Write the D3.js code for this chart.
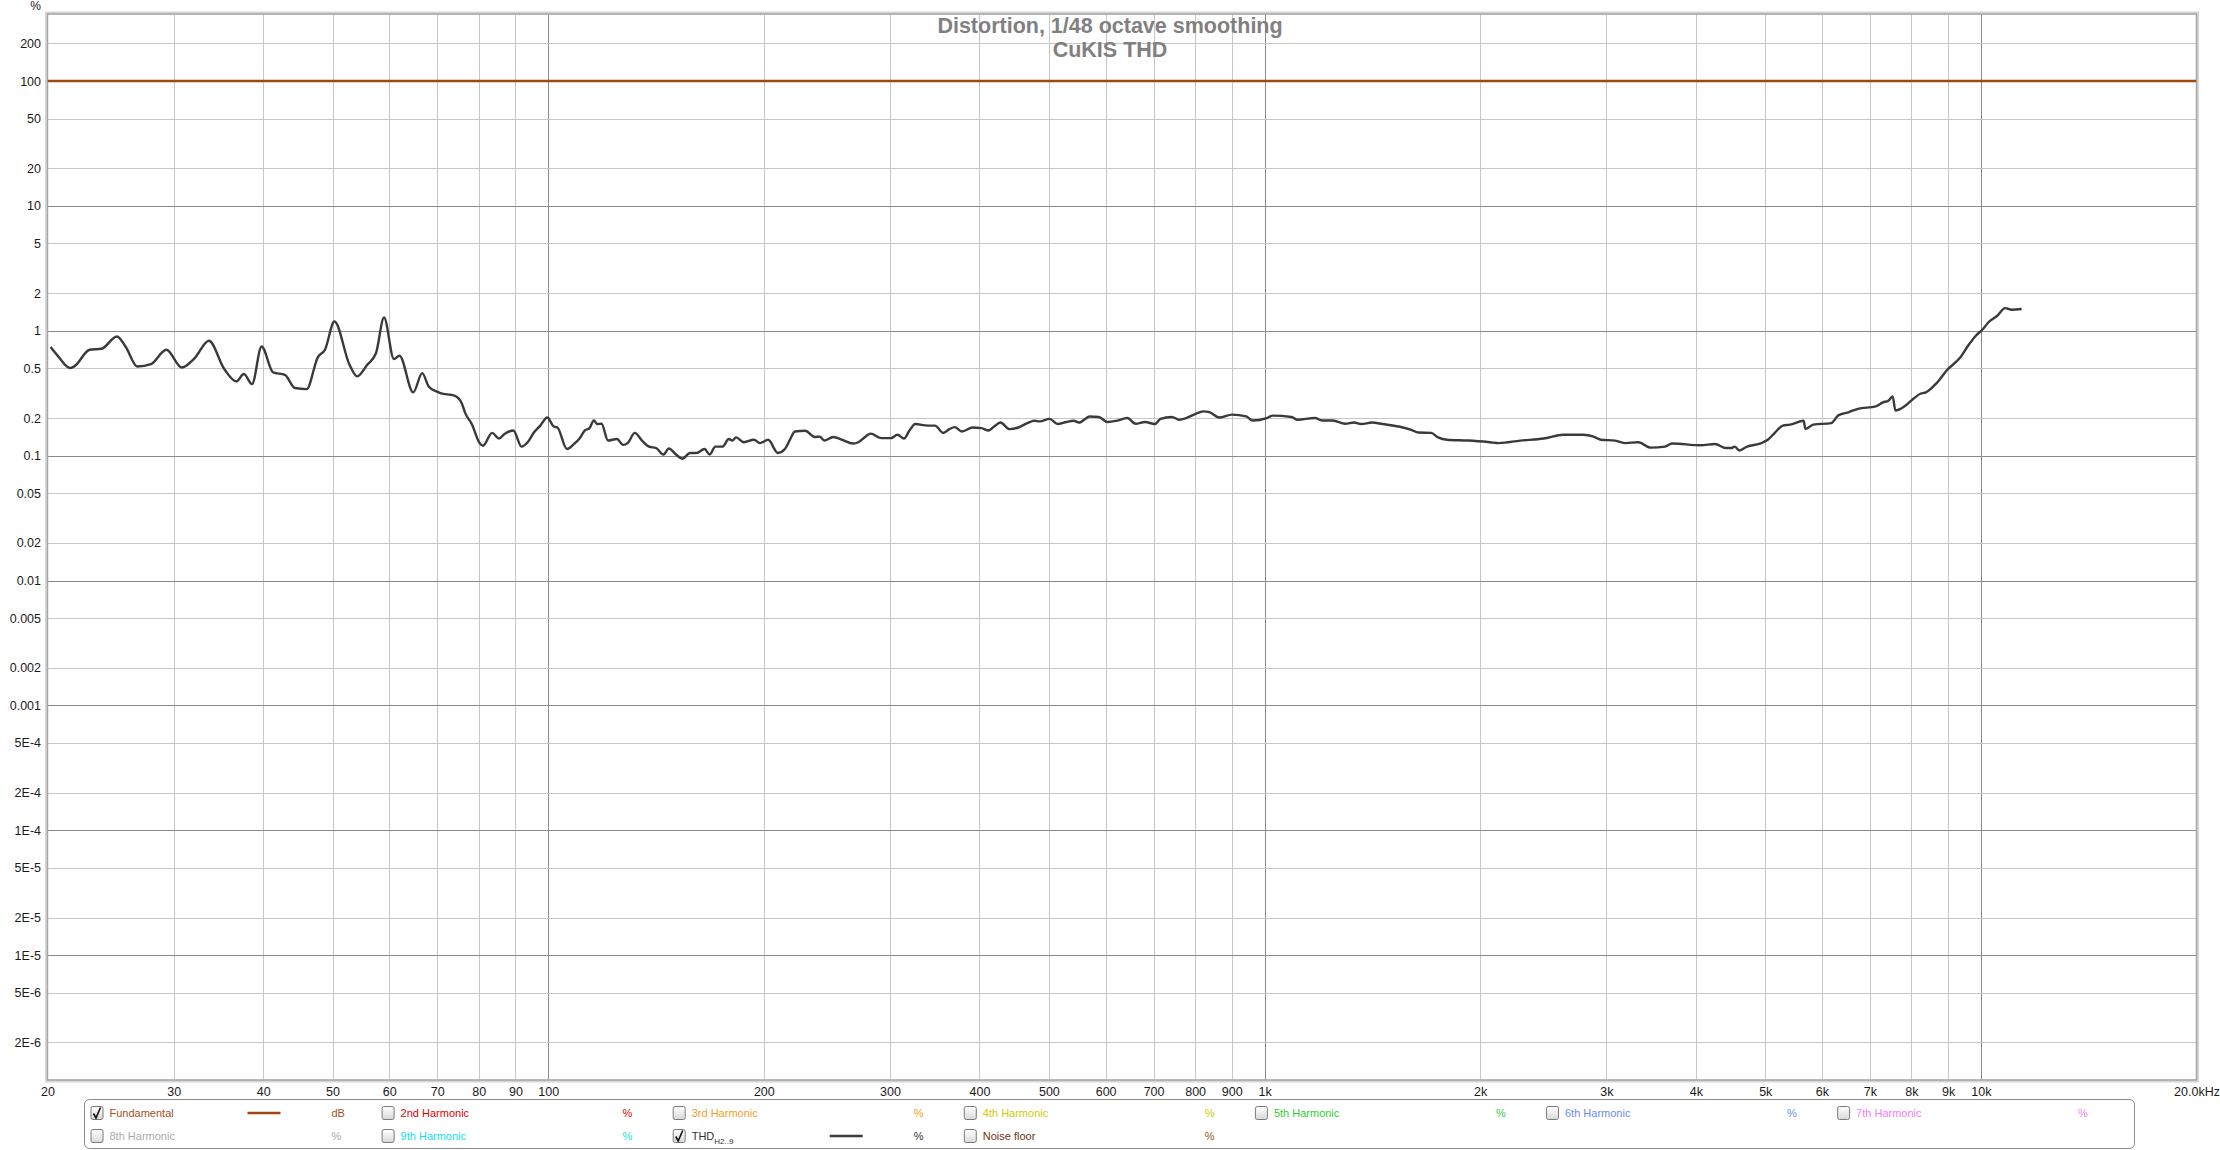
<!DOCTYPE html>
<html><head><meta charset="utf-8">
<script src="https://cdn.jsdelivr.net/npm/d3@7"></script>
<style>
body{margin:0;background:#fff}
svg{display:block}
text{font-family:"Liberation Sans",Arial,sans-serif}
</style>
</head><body>
<svg id="chart" width="2220" height="1150"></svg>
<script>
// ---------------- DATA ----------------
const thdFreq = [
20.2,20.7,21.5,21.8,22.9,23.8,25.0,25.7,26.7,27.9,
29.3,30.8,32.1,33.6,35.3,36.7,37.6,38.6,39.8,41.3,
42.9,44.3,46.0,47.7,48.8,50.3,52.8,54.1,55.9,57.5,
59.0,60.9,62.0,64.8,66.7,68.1,69.8,70.7,74.0,75.7,
76.6,78.3,80.2,81.1,83.5,85.4,86.9,89.4,91.8,93.6,
95.5,97.5,99.7,101.8,103.0,106.2,108.7,110.6,112.5,114.2,
115.8,117.1,118.7,121.2,124.7,127.2,129.1,132.1,135.2,138.3,
141.5,144.8,147.4,150.8,153.9,157.8,161.1,165.3,168.1,171.1,
175.1,178.7,180.8,182.9,187.6,193.7,197.5,202.8,209.2,214.0,
217.8,221.0,228.5,235.5,239.3,242.9,250.0,257.2,266.3,270.9,
275.6,282.0,291.8,301.0,307.3,313.8,319.9,325.5,338.8,346.7,
356.1,363.1,369.5,378.0,391.2,402.5,412.0,419.2,428.0,440.4,
453.3,466.5,477.2,485.6,501.3,514.0,529.0,541.4,550.9,570.2,
586.7,603.8,621.3,643.3,660.5,681.2,702.8,715.7,742.5,759.8,
777.4,800.0,821.6,837.5,864.2,900.6,942.9,961.6,1007,1026,
1091,1110,1176,1203,1245,1296,1334,1365,1413,1462,
1540,1603,1640,1708,1747,1798,1927,2064,2124,2275,
2452,2612,2782,2880,2946,3086,3193,3324,3460,3623,
3707,4063,4255,4404,4481,4532,4600,4717,4939,5041,
5160,5291,5415,5657,5689,5836,6181,6324,6545,6735,
7134,7299,7426,7530,7598,7822,8002,8234,8379,8673,
8977,9344,9618,9840,10070,10240,10540,10810,11040,11400
];
const thdValue = [
0.740,0.623,0.503,0.518,0.705,0.718,0.900,0.749,0.518,0.541,
0.705,0.508,0.604,0.832,0.494,0.393,0.450,0.374,0.749,0.464,
0.444,0.348,0.341,0.616,0.705,1.187,0.534,0.431,0.534,0.663,
1.278,0.593,0.631,0.321,0.458,0.358,0.327,0.317,0.302,0.264,
0.219,0.177,0.126,0.120,0.152,0.137,0.149,0.159,0.118,0.128,
0.153,0.174,0.202,0.171,0.168,0.113,0.124,0.137,0.159,0.166,
0.191,0.179,0.180,0.132,0.136,0.122,0.126,0.152,0.132,0.118,
0.115,0.102,0.114,0.102,0.0945,0.105,0.105,0.113,0.102,0.118,
0.118,0.136,0.132,0.140,0.128,0.134,0.126,0.134,0.105,0.113,
0.136,0.156,0.158,0.141,0.142,0.132,0.141,0.134,0.125,0.128,
0.138,0.150,0.138,0.138,0.147,0.137,0.161,0.179,0.174,0.174,
0.152,0.163,0.169,0.156,0.168,0.166,0.159,0.171,0.184,0.163,
0.168,0.182,0.190,0.188,0.197,0.179,0.186,0.190,0.184,0.206,
0.204,0.186,0.190,0.200,0.180,0.186,0.179,0.197,0.204,0.194,
0.200,0.215,0.226,0.223,0.202,0.213,0.206,0.191,0.200,0.209,
0.204,0.194,0.200,0.191,0.191,0.180,0.184,0.179,0.184,0.179,
0.171,0.161,0.153,0.152,0.140,0.134,0.132,0.128,0.126,0.132,
0.137,0.147,0.147,0.142,0.134,0.132,0.126,0.128,0.116,0.118,
0.125,0.121,0.124,0.115,0.115,0.118,0.110,0.118,0.126,0.134,
0.153,0.174,0.177,0.190,0.164,0.177,0.182,0.210,0.223,0.237,
0.248,0.267,0.275,0.298,0.230,0.248,0.277,0.313,0.321,0.381,
0.487,0.604,0.772,0.912,1.032,1.165,1.318,1.519,1.473,1.492
];
const fundFreq = [20, 20000];
const fundValue = [100, 100];

const yTickValues = [200,100,50,20,10,5,2,1,0.5,0.2,0.1,0.05,0.02,0.01,0.005,0.002,0.001,5e-4,2e-4,1e-4,5e-5,2e-5,1e-5,5e-6,2e-6];
const yTickLabels = ["200","100","50","20","10","5","2","1","0.5","0.2","0.1","0.05","0.02","0.01","0.005","0.002","0.001","5E-4","2E-4","1E-4","5E-5","2E-5","1E-5","5E-6","2E-6"];
const xTickValues = [20,30,40,50,60,70,80,90,100,200,300,400,500,600,700,800,900,1000,2000,3000,4000,5000,6000,7000,8000,9000,10000,20000];
const xTickLabels = ["20","30","40","50","60","70","80","90","100","200","300","400","500","600","700","800","900","1k","2k","3k","4k","5k","6k","7k","8k","9k","10k","20.0kHz"];

const titleLines = ["Distortion, 1/48 octave smoothing", "CuKIS THD"];
const yUnit = "%";

const legendNames = ["Fundamental","2nd Harmonic","3rd Harmonic","4th Harmonic","5th Harmonic","6th Harmonic","7th Harmonic","8th Harmonic","9th Harmonic","THD","Noise floor"];
const legendColors = ["#a0501a","#e00000","#f0a028","#cccc00","#33cc33","#6a8cf0","#f47cf4","#aaaaaa","#10e0e8","#333333","#6a3410"];
const legendUnitColors = ["#a0501a","#e00000","#f0a028","#cccc00","#33cc33","#6a8cf0","#f47cf4","#aaaaaa","#10e0e8","#333333","#a0501a"];
const legendUnits = ["dB","%","%","%","%","%","%","%","%","%","%"];
const legendChecked = [true,false,false,false,false,false,false,false,false,true,false];
const legendLineColors = ["#9c4a12",null,null,null,null,null,null,null,null,"#3c3c3c",null];

// ---------------- LAYOUT ----------------
const svg = d3.select("#chart");
const L = 47.5, R = 2196.5, T = 14, B = 1080;
const x = d3.scaleLog().domain([20, 20000]).range([L, R]);
const y = d3.scaleLog().domain([1e-6, 344]).range([B, T]);
const isDecade = v => Math.abs(Math.log10(v) - Math.round(Math.log10(v))) < 1e-6;

svg.append("rect").attr("x", L).attr("y", T).attr("width", R - L).attr("height", B - T).attr("fill", "#fff");

const gx = svg.append("g").attr("transform", `translate(0,${B})`)
  .call(d3.axisBottom(x).tickValues(xTickValues.filter(v => v > 20 && v < 20000)).tickSize(-(B - T)).tickFormat(""));
gx.select(".domain").remove();
gx.selectAll(".tick line").attr("stroke", d => isDecade(d) ? "#8a8a8a" : "#c6c6c6").attr("stroke-width", 1)
  .attr("shape-rendering", "crispEdges");

const gy = svg.append("g").attr("transform", `translate(${L},0)`)
  .call(d3.axisLeft(y).tickValues(yTickValues).tickSize(-(R - L)).tickFormat(""));
gy.select(".domain").remove();
gy.selectAll(".tick line").attr("stroke", d => isDecade(d) ? "#8a8a8a" : "#c6c6c6").attr("stroke-width", 1)
  .attr("shape-rendering", "crispEdges");

svg.append("rect").attr("x", L - 1).attr("y", T - 1).attr("width", R - L + 2).attr("height", B - T + 2)
  .attr("fill", "none").attr("stroke", "#d6d6d6").attr("stroke-width", 3);
svg.append("rect").attr("x", L).attr("y", T).attr("width", R - L).attr("height", B - T)
  .attr("fill", "none").attr("stroke", "#a6a6a6").attr("stroke-width", 1.5);

const ax = svg.append("g").attr("transform", `translate(0,${B})`)
  .call(d3.axisBottom(x).tickValues(xTickValues).tickSize(0).tickPadding(7)
    .tickFormat((d, i) => xTickLabels[i]));
ax.select(".domain").remove();
ax.selectAll("text").attr("font-size", 12.5).attr("fill", "#1a1a1a")
  .attr("font-family", "'Liberation Sans', Arial, sans-serif");

const ay = svg.append("g").attr("transform", `translate(${L - 0.5},0)`)
  .call(d3.axisLeft(y).tickValues(yTickValues).tickSize(0).tickPadding(6)
    .tickFormat((d, i) => yTickLabels[i]));
ay.select(".domain").remove();
ay.selectAll("text").attr("font-size", 12.5).attr("fill", "#1a1a1a")
  .attr("font-family", "'Liberation Sans', Arial, sans-serif");

svg.append("text").attr("x", 41).attr("y", 10).attr("text-anchor", "end")
  .attr("font-size", 12).attr("fill", "#1a1a1a").text(yUnit);

svg.append("g").selectAll("text").data(titleLines).join("text")
  .attr("x", 1110).attr("y", (d, i) => 33 + i * 24)
  .attr("text-anchor", "middle").attr("font-size", 21.5).attr("font-weight", "bold")
  .attr("fill", "#808080").text(d => d);

const clip = svg.append("clipPath").attr("id", "plotclip");
clip.append("rect").attr("x", L).attr("y", T).attr("width", R - L).attr("height", B - T);
const plotG = svg.append("g").attr("clip-path", "url(#plotclip)");

const fundData = fundFreq.map((f, i) => ({f, v: fundValue[i]}));
const thdData = thdFreq.map((f, i) => ({f, v: thdValue[i]}));

plotG.append("path").datum(fundData)
  .attr("d", d3.line().x(d => x(d.f)).y(d => y(d.v)))
  .attr("fill", "none").attr("stroke", "#9c4a12").attr("stroke-width", 2.6);

plotG.append("path").datum(thdData)
  .attr("d", d3.line().x(d => x(d.f)).y(d => y(d.v)).curve(d3.curveMonotoneX))
  .attr("fill", "none").attr("stroke", "#3a3a3a").attr("stroke-width", 2.4)
  .attr("stroke-linejoin", "round");

// ---------------- LEGEND ----------------
const defs = svg.append("defs");
const grad = defs.append("linearGradient").attr("id", "cbgrad").attr("x1", 0).attr("y1", 0).attr("x2", 0).attr("y2", 1);
grad.append("stop").attr("offset", "0%").attr("stop-color", "#ffffff");
grad.append("stop").attr("offset", "100%").attr("stop-color", "#d8d8d8");

svg.append("rect").attr("x", 84.5).attr("y", 1099.5).attr("width", 2050).attr("height", 49)
  .attr("rx", 5).attr("fill", "#fff").attr("stroke", "#8c8c8c").attr("stroke-width", 1);

const colStart = 90.5, colStep = 291.1, rowY = [1113, 1136];
const items = legendNames.map((name, i) => ({
  name, color: legendColors[i], unitColor: legendUnitColors[i], unit: legendUnits[i],
  checked: legendChecked[i], line: legendLineColors[i],
  row: i < 7 ? 0 : 1, col: i < 7 ? i : i - 7
}));

const lg = svg.append("g").selectAll("g").data(items).join("g")
  .attr("transform", d => `translate(${colStart + d.col * colStep},${rowY[d.row]})`);

lg.append("rect").attr("x", 0.5).attr("y", -6.5).attr("width", 12).attr("height", 13).attr("rx", 2)
  .attr("fill", "url(#cbgrad)").attr("stroke", "#7a7a7a");
lg.filter(d => d.checked).append("path")
  .attr("d", "M3,0.5 L5.5,5 L10,-5.5").attr("fill", "none").attr("stroke", "#111").attr("stroke-width", 1.6);

const nameText = lg.append("text").attr("x", 19).attr("y", 4).attr("font-size", 11)
  .attr("fill", d => d.color);
nameText.filter(d => d.name !== "THD").text(d => d.name);
const thdT = nameText.filter(d => d.name === "THD");
thdT.append("tspan").text("THD");
thdT.append("tspan").attr("font-size", 8).attr("dy", 4).text("H2..9");

lg.filter(d => d.line).append("line")
  .attr("x1", 157).attr("x2", 190).attr("y1", 0).attr("y2", 0)
  .attr("stroke", d => d.line).attr("stroke-width", 2.6);

lg.append("text").attr("x", 241).attr("y", 4).attr("font-size", 11)
  .attr("fill", d => d.unitColor).text(d => d.unit);
</script>
</body></html>
